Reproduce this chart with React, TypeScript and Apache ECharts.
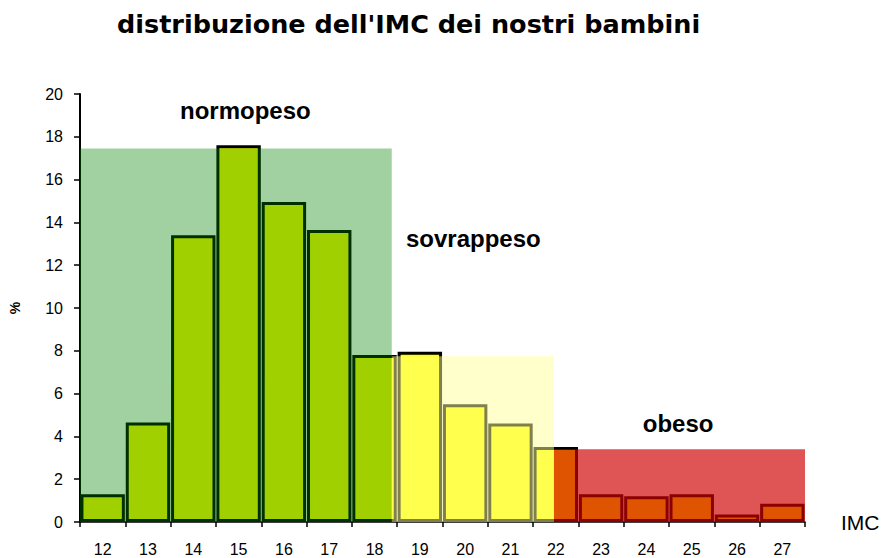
import React, { useEffect, useRef } from "react";
import * as echarts from "echarts";

// IMC classes (x axis categories)
const categories = ["12", "13", "14", "15", "16", "17", "18", "19", "20", "21", "22", "23", "24", "25", "26", "27"];
// percentage of children per IMC class
const percentages = [1.3, 4.65, 13.4, 17.6, 14.95, 13.65, 7.8, 7.95, 5.5, 4.6, 3.5, 1.3, 1.2, 1.3, 0.35, 0.85];

// weight-class bands, in category-edge units (0 = left edge of "12", 16 = right edge of "27")
const bandNames = ["normopeso", "sovrappeso", "obeso"];
const bandStart = [0, 6.88, 10.46];
const bandEnd = [6.88, 10.46, 16];
const bandHeight = [17.45, 7.75, 3.4];

const yTicks = ["0", "2", "4", "6", "8", "10", "12", "14", "16", "18", "20"];

// label anchors for the band names (layout)
const labelX = [3.65, 8.68, 13.2];
const labelY = [19.25, 13.27, 4.58];
const bandColors = ["rgba(0,128,0,0.37)", "rgba(255,255,153,0.5)", "rgba(208,0,0,0.67)"];

export default function App() {
  const ref = useRef<HTMLDivElement>(null);
  useEffect(() => {
    if (!ref.current) return;
    const chart = echarts.init(ref.current, null, { renderer: "svg" });
    const axisFont = '"Liberation Sans", Arial, sans-serif';
    chart.setOption({
      animation: false,
      backgroundColor: "#ffffff",
      title: {
        text: "distribuzione dell'IMC dei nostri bambini",
        left: 112,
        top: 6,
        textStyle: { fontFamily: '"DejaVu Sans", Verdana, sans-serif', fontWeight: "bold", fontSize: 25.5, color: "#000" },
      },
      grid: { left: 77, right: 78, top: 94, bottom: 36, containLabel: false },
      xAxis: [
        {
          type: "category",
          data: categories,
          boundaryGap: true,
          name: "IMC",
          nameLocation: "end",
          nameGap: 36,
          nameTextStyle: { fontFamily: '"Liberation Sans", Arial, sans-serif', fontSize: 21, color: "#000" },
          axisLine: { show: true, lineStyle: { color: "#000", width: 1.5 } },
          axisTick: { show: true, alignWithLabel: false, length: 5, lineStyle: { color: "#000", width: 1.5 } },
          axisLabel: { interval: 0, margin: 19, fontFamily: axisFont, fontSize: 16, color: "#000" },
          splitLine: { show: false },
        },
        { type: "value", min: 0, max: 16, show: false },
      ],
      yAxis: {
        type: "value",
        min: 0,
        max: 20,
        interval: 2,
        name: "%",
        nameLocation: "middle",
        nameRotate: 90,
        nameGap: 58,
        nameTextStyle: { fontFamily: '"Liberation Sans", Arial, sans-serif', fontSize: 14, fontWeight: "bold", color: "#000" },
        axisLine: { show: true, lineStyle: { color: "#000", width: 2 } },
        axisTick: { show: true, length: 6, lineStyle: { color: "#000", width: 1.5 } },
        axisLabel: {
          margin: 17,
          fontFamily: axisFont,
          fontSize: 16,
          color: "#000",
          formatter: (v: number) => yTicks[Math.round(v / 2)] ?? String(v),
        },
        splitLine: { show: false },
      },
      series: [
        {
          type: "bar",
          xAxisIndex: 0,
          data: percentages,
          barWidth: "98%",
          z: 2,
          itemStyle: { color: "#FFFF00", borderColor: "#000", borderWidth: 3 },
        },
        {
          type: "custom",
          xAxisIndex: 1,
          yAxisIndex: 0,
          z: 5,
          silent: true,
          data: bandStart.map((s, i) => [s, bandEnd[i], bandHeight[i]]),
          encode: { x: [0, 1], y: 2 },
          renderItem: (params: any, api: any) => {
            const i = params.dataIndex;
            const p0 = api.coord([api.value(0), 0]);
            const p1 = api.coord([api.value(1), api.value(2)]);
            const lp = api.coord([labelX[i], labelY[i]]);
            return {
              type: "group",
              children: [
                {
                  type: "rect",
                  shape: { x: p0[0], y: p1[1], width: p1[0] - p0[0], height: p0[1] - p1[1] },
                  style: { fill: bandColors[i] },
                },
                {
                  type: "text",
                  x: lp[0],
                  y: lp[1],
                  style: {
                    text: bandNames[i],
                    fill: "#000",
                    fontFamily: '"Liberation Sans", Arial, sans-serif',
                    fontWeight: "bold",
                    fontSize: 24,
                    align: "center",
                    verticalAlign: "middle",
                  },
                },
              ],
            };
          },
        },
      ],
    });
    return () => chart.dispose();
  }, []);
  return <div ref={ref} style={{ position: "fixed", left: 0, top: 0, width: 883, height: 558 }} />;
}
